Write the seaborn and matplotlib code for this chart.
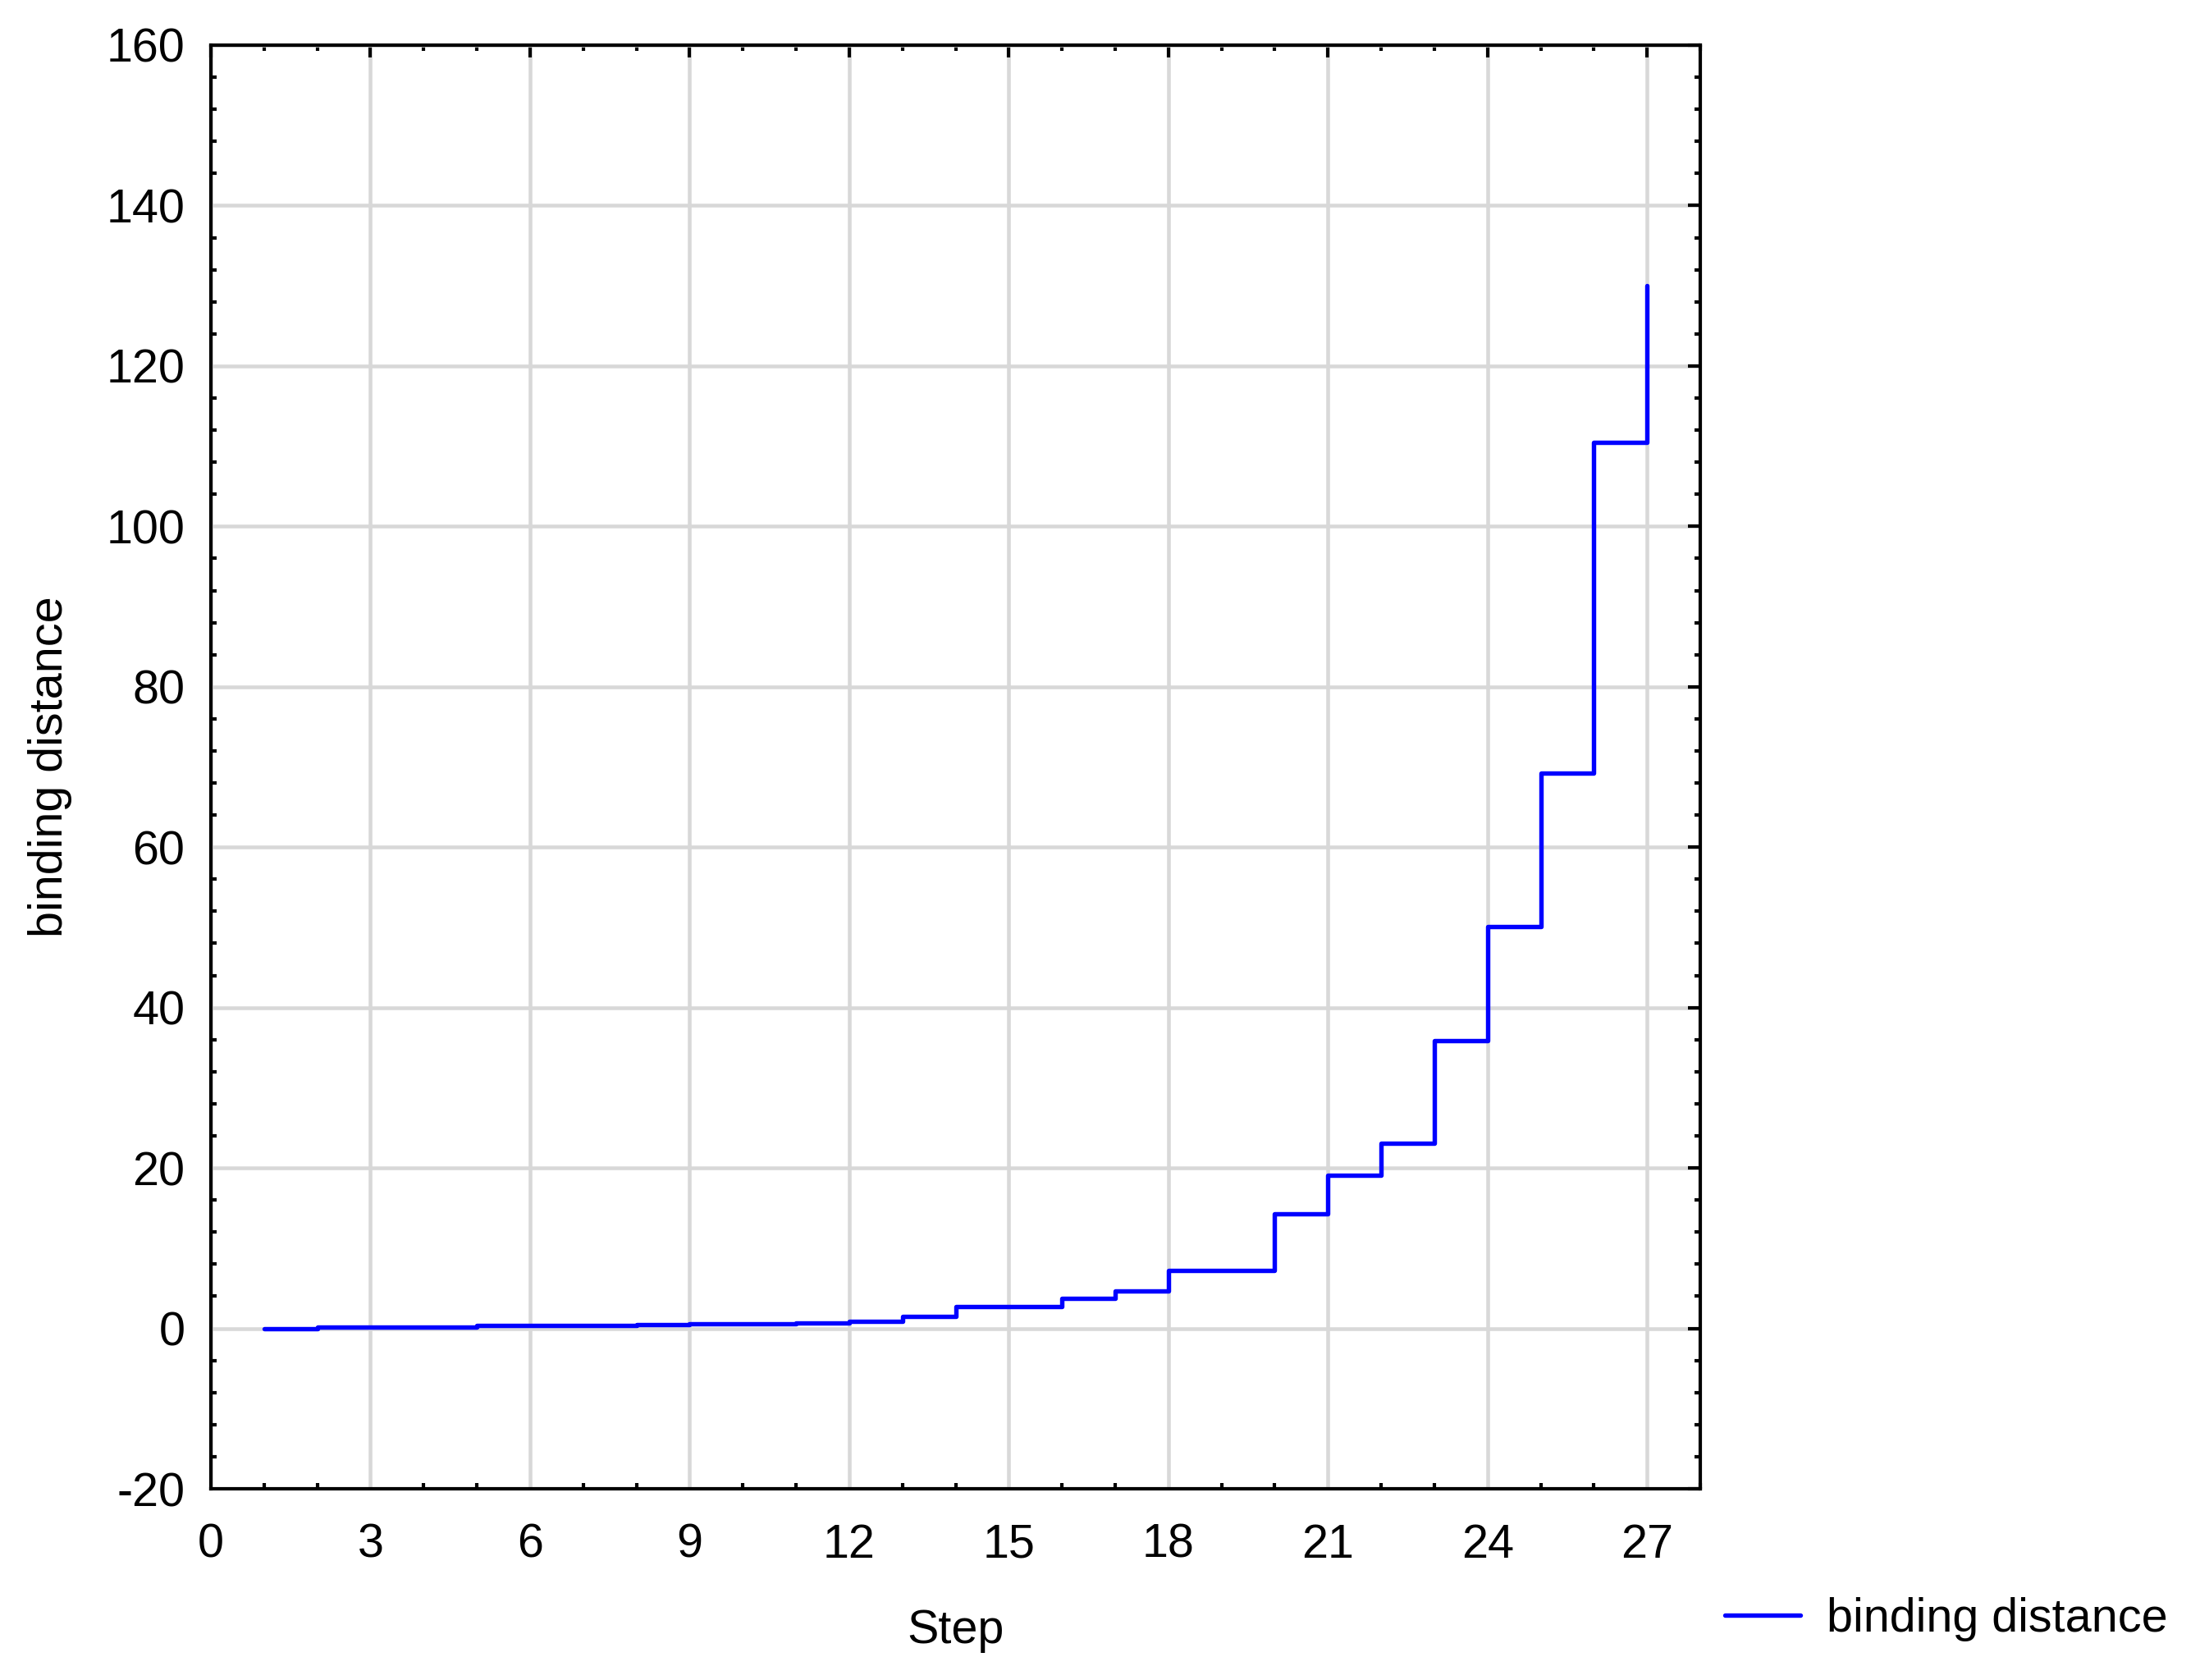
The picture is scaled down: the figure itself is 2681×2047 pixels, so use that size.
import matplotlib
matplotlib.use('Agg')
import matplotlib.pyplot as plt
import pandas as pd
import seaborn as sns
from matplotlib.ticker import MultipleLocator

# 读取的数据: 每一步的结合距离
steps = list(range(1, 28))
binding_distance = [0.0, 0.12, 0.12, 0.12, 0.33, 0.33, 0.33, 0.45, 0.55, 0.55,
                    0.72, 0.85, 1.47, 2.76, 2.76, 3.72, 4.64, 7.2, 7.2, 14.3,
                    19.05, 23.1, 35.9, 50.1, 69.2, 110.5, 130.0]

x_ticks = list(range(0, 28, 3))
y_ticks = list(range(-20, 161, 20))

df = pd.DataFrame({'Step': steps, 'binding distance': binding_distance})

sns.set_style('white')
plt.rcParams['font.family'] = ['Liberation Sans', 'DejaVu Sans']
plt.rcParams['axes.unicode_minus'] = False  # 负号用 "-"
plt.rcParams['text.color'] = 'black'
plt.rcParams['axes.labelcolor'] = 'black'
plt.rcParams['xtick.color'] = 'black'
plt.rcParams['ytick.color'] = 'black'

fs = 13.8

fig = plt.figure(figsize=(2681 / 300, 2047 / 300), dpi=300)
ax = fig.add_axes([257 / 2681, 1 - 1814 / 2047, (2072 - 257) / 2681, (1814 - 55) / 2047])

sns.lineplot(data=df, x='Step', y='binding distance', ax=ax, color='#0000ff',
             linewidth=1.3, drawstyle='steps-post', estimator=None,
             label='binding distance', legend=False)

ax.set_xlim(0, 28)
ax.set_ylim(-20, 160)
ax.set_xticks(x_ticks)
ax.set_yticks(y_ticks)
ax.xaxis.set_minor_locator(MultipleLocator(1))
ax.yaxis.set_minor_locator(MultipleLocator(4))

ax.grid(True, which='major', color='#d8d8d8', linewidth=1.1)
ax.set_axisbelow(True)
for s in ax.spines.values():
    s.set_color('black')
    s.set_linewidth(1.0)

ax.tick_params(which='major', direction='in', length=3.6, width=1.0,
               top=True, right=True, labelsize=fs, pad=7.6,
               colors='black', labelcolor='black')
ax.tick_params(axis='x', which='major', pad=10.0)
ax.tick_params(which='minor', direction='in', length=1.6, width=1.0,
               top=True, right=True, bottom=True, left=True, colors='black')

ax.set_xlabel('Step', fontsize=fs, labelpad=12, color='black')
ax.set_ylabel('binding distance', fontsize=fs, labelpad=10, color='black')

# 图例放在右下角
fig.legend(handles=ax.get_lines()[:1], labels=['binding distance'],
           loc='center left', bbox_to_anchor=(2102 / 2681, 1 - 1973 / 2047),
           frameon=False, fontsize=fs, borderpad=0, borderaxespad=0,
           handlelength=1.6, handletextpad=0.55, labelcolor='black')

fig.savefig('out.png', dpi=300, facecolor='white')
